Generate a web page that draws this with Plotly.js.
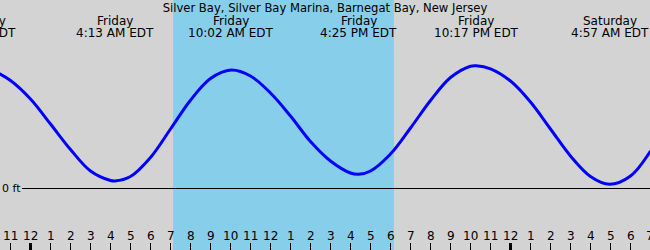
<!DOCTYPE html>
<html>
<head>
<meta charset="utf-8">
<script src="https://cdn.plot.ly/plotly-3.0.1.min.js"></script>
<style>
  html, body { margin: 0; padding: 0; background: #d3d3d3; }
  #chart { width: 650px; height: 250px; }
</style>
</head>
<body>
<div id="chart"></div>
<script>
// ---- Data (hours relative to Friday 00:00, heights in feet) ----
const chartTitle = 'Silver Bay, Silver Bay Marina, Barnegat Bay, New Jersey';

const tideHours = [-2, -1, 0, 1, 2, 3, 4, 4.217, 5, 6,
                   7, 8, 9, 10.033, 11, 12, 13, 14, 15, 16,
                   16.417, 17, 18, 19, 20, 21, 22, 22.283, 23, 24,
                   25, 26, 27, 28, 28.95, 30, 31];
const tideFeet  = [1.195, 1.08, 0.895, 0.645, 0.39, 0.175, 0.08, 0.075, 0.12, 0.31,
                   0.595, 0.883, 1.10, 1.185, 1.125, 0.955, 0.725, 0.47, 0.275, 0.155,
                   0.142, 0.175, 0.345, 0.605, 0.88, 1.11, 1.223, 1.228, 1.197, 1.075,
                   0.865, 0.595, 0.325, 0.12, 0.042, 0.125, 0.375];

const eventHours = [-2.65, 4.217, 10.033, 16.417, 22.283, 28.95];
const eventDays  = ['Thursday', 'Friday', 'Friday', 'Friday', 'Friday', 'Saturday'];
const eventTimes = ['9:21 PM EDT', '4:13 AM EDT', '10:02 AM EDT', '4:25 PM EDT', '10:17 PM EDT', '4:57 AM EDT'];

const tickHours  = [-1, 0, 1, 2, 3, 4, 5, 6, 7, 8, 9, 10, 11, 12, 13, 14, 15, 16,
                    17, 18, 19, 20, 21, 22, 23, 24, 25, 26, 27, 28, 29, 30, 31];
const tickLabels = ['11', '12', '1', '2', '3', '4', '5', '6', '7', '8', '9', '10', '11', '12',
                    '1', '2', '3', '4', '5', '6', '7', '8', '9', '10', '11', '12',
                    '1', '2', '3', '4', '5', '6', '7'];
const midnightHours = [0, 24];

const sunriseHours = [7.13];
const sunsetHours  = [18.17];

const zeroLabel = '0 ft';

// ---- Layout helpers ----
const W = 650, H = 250;
const xRange = [-1.525, 30.975];
const yRange = [-0.615, 1.885];

function xPos(t) {
  // keep data coordinates when visible; fall back to paper fraction off-range
  if (t >= xRange[0] && t <= xRange[1]) return { xref: 'x', x: t };
  return { xref: 'paper', x: (t - xRange[0]) / (xRange[1] - xRange[0]) };
}

const shapes = [];
for (let i = 0; i < sunriseHours.length; i++) {
  shapes.push({
    type: 'rect', layer: 'below', xref: 'x', yref: 'paper',
    x0: sunriseHours[i], x1: sunsetHours[i], y0: 0, y1: 1,
    fillcolor: '#87ceeb', line: { width: 0 }
  });
}
shapes.push({
  type: 'line', layer: 'above', xref: 'paper', yref: 'y',
  x0: 22 / W, x1: 1, y0: 0, y1: 0,
  line: { color: '#000000', width: 1 }
});
midnightHours.forEach(function (m) {
  shapes.push({
    type: 'line', layer: 'above', xref: 'x', yref: 'paper',
    ysizemode: 'pixel', yanchor: 0,
    x0: m, x1: m, y0: 0, y1: 7,
    line: { color: '#000000', width: 3 }
  });
});

const annotations = [];
eventHours.forEach(function (t, i) {
  const p = xPos(t);
  annotations.push(Object.assign({}, p, {
    yref: 'paper', y: 1, yanchor: 'middle', xanchor: 'center', yshift: -20.8,
    text: eventDays[i], showarrow: false
  }));
  annotations.push(Object.assign({}, p, {
    yref: 'paper', y: 1, yanchor: 'middle', xanchor: 'center', yshift: -32.8,
    text: eventTimes[i], showarrow: false
  }));
});
tickHours.forEach(function (t, i) {
  const p = xPos(t);
  annotations.push(Object.assign({}, p, {
    yref: 'paper', y: 0, yanchor: 'middle', xanchor: 'center', yshift: 14.2,
    text: tickLabels[i], showarrow: false
  }));
});
annotations.push({
  xref: 'paper', x: 0, xanchor: 'left', yref: 'y', y: 0, yanchor: 'middle',
  text: zeroLabel, showarrow: false, font: { size: 11 }
});

const trace = {
  x: tideHours, y: tideFeet, type: 'scatter', mode: 'lines',
  line: { color: '#0000ff', width: 3, shape: 'spline', smoothing: 1 },
  hoverinfo: 'skip'
};

const layout = {
  width: W, height: H,
  margin: { l: 0, r: 0, t: 0, b: 0, pad: 0 },
  paper_bgcolor: '#d3d3d3', plot_bgcolor: '#d3d3d3',
  font: { family: 'DejaVu Sans', size: 12, color: '#000000' },
  showlegend: false,
  title: {
    text: chartTitle, font: { family: 'DejaVu Sans', size: 11.6, color: '#000000' },
    xref: 'paper', x: 0.5, xanchor: 'center',
    yref: 'container', y: 1 - 8 / H, yanchor: 'middle'
  },
  xaxis: {
    range: xRange, showgrid: false, zeroline: false, showline: false,
    ticks: 'inside', ticklen: 7, tickwidth: 1, tickcolor: '#000000',
    tickmode: 'array', tickvals: tickHours, showticklabels: false, fixedrange: true
  },
  yaxis: {
    range: yRange, showgrid: false, zeroline: false, showline: false,
    ticks: '', showticklabels: false, fixedrange: true
  },
  shapes: shapes,
  annotations: annotations
};

Plotly.newPlot('chart', [trace], layout, { displayModeBar: false, staticPlot: true });
</script>
</body>
</html>
